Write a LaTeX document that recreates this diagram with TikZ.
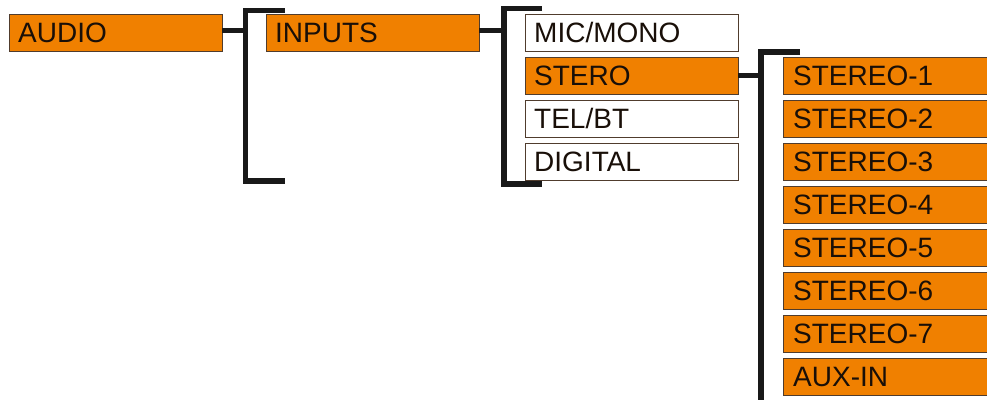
\documentclass[tikz,border=0pt]{standalone}
\usepackage{fontspec}
\setmainfont{Liberation Sans}
\definecolor{boxorange}{RGB}{240,128,0}
\definecolor{boxedge}{RGB}{80,60,45}
\definecolor{txt}{RGB}{25,15,8}
\begin{document}
\begin{tikzpicture}[x=1pt,y=-1pt,
  mbox/.style={draw=boxedge,line width=1pt,inner sep=0pt,outer sep=0pt,minimum height=37pt,minimum width=213pt,anchor=north west},
  obox/.style={mbox,fill=boxorange},
  wbox/.style={mbox,fill=white},
  lbl/.style={anchor=base west,inner sep=0pt,text=txt,font=\fontsize{28}{30}\selectfont},
  link/.style={line width=5pt,black!90},
  brack/.style={line width=5.5pt,black!90}]
\useasboundingbox (0,0) rectangle (987,399);
\clip (0,0) rectangle (987,399);
% level 1
\node[obox] (audio) at (9,14) {};
\node[lbl] (audiot) at (18,42) {AUDIO};
% level 2
\node[obox] (inputs) at (266,14) {};
\node[lbl] (inputst) at (275,42) {INPUTS};
% level 3
\node[wbox] (mic) at (525,14) {};
\node[lbl] (mict) at (534,42) {MIC/MONO};
\node[obox] (stero) at (525,57) {};
\node[lbl] (sterot) at (534,85) {STERO};
\node[wbox] (tel) at (525,100) {};
\node[lbl] (telt) at (534,128) {TEL/BT};
\node[wbox] (dig) at (525,143) {};
\node[lbl] (digt) at (534,171) {DIGITAL};
% level 4
\foreach \i/\t in {0/STEREO-1,1/STEREO-2,2/STEREO-3,3/STEREO-4,4/STEREO-5,5/STEREO-6,6/STEREO-7,7/AUX-IN}{
  \node[obox] (s\i) at (783,57+43*\i) {};
  \node[lbl] (s\i t) at (793,85+43*\i) {\t};
}
% brackets
\coordinate (b1t) at (245.5,10.5);
\coordinate (b1b) at (245.5,181);
\coordinate (b2t) at (504,8.5);
\coordinate (b2b) at (504,184);
\coordinate (b3t) at (761,52);
\coordinate (b3b) at (761,405);
\draw[brack] ([xshift=39pt]b1t) -- (b1t) -- (b1b) -- ([xshift=39pt]b1b);
\draw[brack] ([xshift=38pt]b2t) -- (b2t) -- (b2b) -- ([xshift=38pt]b2b);
\draw[brack] ([xshift=39pt]b3t) -- (b3t) -- (b3b);
% links
\coordinate (j1) at (245.5,30.5);
\coordinate (j2) at (504,30.5);
\coordinate (j3) at (761,75.5);
\draw[link] (j1 -| audio.east) -- (j1);
\draw[link] (j2 -| inputs.east) -- (j2);
\draw[link] (j3 -| stero.east) -- (j3);
\end{tikzpicture}
\end{document}
